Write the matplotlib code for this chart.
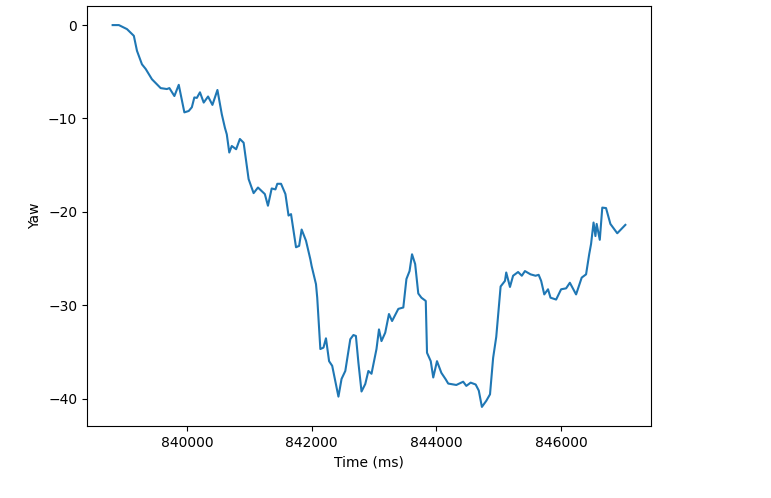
import matplotlib
matplotlib.use("Agg")
from matplotlib import pyplot as plt
from matplotlib.ticker import MultipleLocator

# time stamps (ms) and yaw readings
time_ms = [838810, 838910, 839040, 839150, 839200, 839280, 839340, 839440, 839580, 839680,
           839720, 839800, 839870, 839960, 840030, 840080, 840120, 840160, 840210, 840270,
           840340, 840410, 840490, 840560, 840610, 840640, 840680, 840720, 840790, 840850,
           840910, 840990, 841070, 841140, 841250, 841300, 841360, 841420, 841450, 841510,
           841580, 841630, 841670, 841750, 841800, 841840, 841910, 841980, 842000, 842070,
           842090, 842140, 842190, 842230, 842280, 842330, 842430, 842480, 842540, 842620,
           842670, 842710, 842750, 842800, 842860, 842910, 842960, 843040, 843080, 843120,
           843180, 843240, 843290, 843390, 843470, 843520, 843570, 843610, 843660, 843710,
           843760, 843830, 843850, 843910, 843950, 844010, 844080, 844150, 844190, 844320,
           844430, 844480, 844550, 844630, 844680, 844730, 844800, 844860, 844910, 844960,
           845030, 845100, 845120, 845180, 845230, 845310, 845370, 845420, 845510, 845590,
           845640, 845680, 845730, 845790, 845830, 845920, 846000, 846080, 846140, 846240,
           846330, 846400, 846450, 846480, 846520, 846550, 846570, 846620, 846660, 846720,
           846790, 846900, 847030]
yaw = [0.0, 0.0, -0.43, -1.15, -2.75, -4.2, -4.7, -5.8, -6.75, -6.85,
       -6.75, -7.6, -6.4, -9.35, -9.2, -8.8, -7.75, -7.8, -7.2, -8.3,
       -7.65, -8.55, -6.95, -9.55, -11.0, -11.7, -13.65, -12.95, -13.3, -12.2,
       -12.6, -16.5, -18.0, -17.4, -18.1, -19.35, -17.5, -17.6, -17.0, -17.0,
       -18.1, -20.4, -20.25, -23.8, -23.65, -21.9, -23.1, -25.1, -25.8, -27.75,
       -29.2, -34.7, -34.55, -33.55, -36.0, -36.5, -39.8, -37.9, -37.05, -33.65,
       -33.2, -33.3, -36.15, -39.25, -38.45, -37.05, -37.35, -34.7, -32.6, -33.85,
       -32.95, -30.95, -31.7, -30.4, -30.25, -27.2, -26.35, -24.55, -25.6, -28.75,
       -29.2, -29.55, -35.1, -36.0, -37.75, -36.0, -37.25, -37.95, -38.4, -38.55,
       -38.2, -38.65, -38.3, -38.5, -39.15, -40.9, -40.25, -39.55, -35.65, -33.4,
       -28.0, -27.4, -26.5, -28.05, -26.85, -26.45, -26.85, -26.35, -26.7, -26.85,
       -26.75, -27.4, -28.85, -28.3, -29.2, -29.4, -28.3, -28.2, -27.6, -28.85,
       -27.05, -26.7, -24.55, -23.45, -21.15, -22.6, -21.3, -23.0, -19.55, -19.6,
       -21.3, -22.3, -21.4]

fig = plt.figure(figsize=(7.71, 4.98), dpi=100)
ax = fig.add_axes([87/771, 72/498, 564/771, 420/498])
ax.plot(time_ms, yaw, color='#1f77b4', linewidth=1.5)
ax.set_xlabel("Time (ms)")
ax.set_ylabel("Yaw")
ax.yaxis.set_major_locator(MultipleLocator(10))
ax.ticklabel_format(axis='x', style='plain', useOffset=False)
fig.savefig("out.png", dpi=100)
